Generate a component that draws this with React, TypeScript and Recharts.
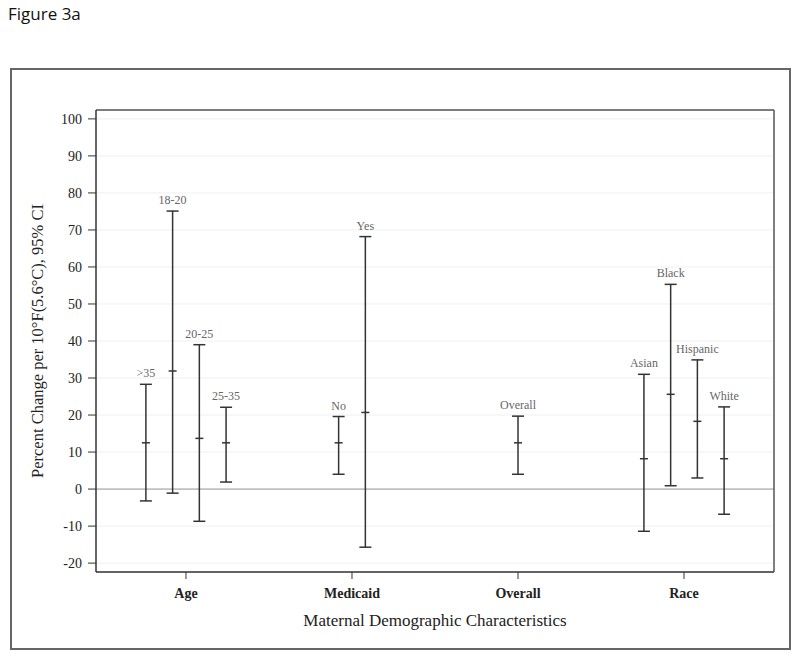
import React from 'react';
import {
  ComposedChart,
  Scatter,
  XAxis,
  YAxis,
  CartesianGrid,
  ReferenceLine,
  ErrorBar,
  Label,
} from 'recharts';

const categories = ['Age', 'Medicaid', 'Overall', 'Race'];
const subgroups = ['>35', '18-20', '20-25', '25-35', 'No', 'Yes', 'Overall', 'Asian', 'Black', 'Hispanic', 'White'];
const subgroupCategory = ['Age', 'Age', 'Age', 'Age', 'Medicaid', 'Medicaid', 'Overall', 'Race', 'Race', 'Race', 'Race'];
const estimates = [12.5, 31.9, 13.7, 12.5, 12.5, 20.7, 12.5, 8.2, 25.6, 18.3, 8.2];
const lower = [-3.2, -1.1, -8.7, 1.9, 4.0, -15.7, 4.0, -11.4, 0.9, 3.0, -6.8];
const upper = [28.3, 75.1, 39.0, 22.1, 19.6, 68.2, 19.7, 31.0, 55.3, 34.9, 22.2];
const yTicks = [-20, -10, 0, 10, 20, 30, 40, 50, 60, 70, 80, 90, 100];
const xTicks = [1, 2, 3, 4];

const DODGE = 0.161;
const PAD = 0.542;
const SERIF = '"Liberation Serif", "DejaVu Serif", serif';
const INK = '#333';

const rows = subgroups.map((name, i) => {
  const cat = subgroupCategory[i];
  const n = subgroupCategory.filter((c) => c === cat).length;
  const k = subgroupCategory.slice(0, i).filter((c) => c === cat).length;
  const x = categories.indexOf(cat) + 1 + (k - (n - 1) / 2) * DODGE;
  return { name, x, est: estimates[i], lo: lower[i], hi: upper[i] };
});

const midData = rows.map((r) => ({ x: r.x, y: r.est, err: [r.est - r.lo, r.hi - r.est] }));
const labelData = rows.map((r) => ({ x: r.x, y: r.hi, name: r.name }));

const MidTick = (props: any) => {
  const { cx, cy } = props;
  return <line x1={cx - 4} x2={cx + 4} y1={cy} y2={cy} stroke={INK} strokeWidth={1.5} />;
};

const GroupLabel = (props: any) => {
  const { cx, cy, payload } = props;
  return (
    <text x={cx} y={cy - 7} textAnchor="middle" fontSize={12} fill="#666" style={{ fontFamily: SERIF }}>
      {payload.name}
    </text>
  );
};

const YTick = (props: any) => {
  const { x, y, payload } = props;
  return (
    <text x={x} y={y} dy={5} textAnchor="end" fontSize={14} fill="#222" style={{ fontFamily: SERIF }}>
      {payload.value}
    </text>
  );
};

const XTick = (props: any) => {
  const { x, y, payload } = props;
  return (
    <text x={x} y={y} dy={10} textAnchor="middle" fontSize={14} fontWeight="bold" fill="#222" style={{ fontFamily: SERIF }}>
      {categories[Math.round(payload.value) - 1]}
    </text>
  );
};

export default function App() {
  return (
    <div style={{ position: 'absolute', left: 0, top: 0, width: 800, height: 661, background: '#fff' }}>
      <div
        style={{
          position: 'absolute',
          left: 8,
          top: 3,
          fontFamily: '"Open Sans", "Noto Sans", sans-serif',
          fontSize: 17,
          color: '#111',
          lineHeight: '22px',
        }}
      >
        Figure 3a
      </div>
      <div
        style={{
          position: 'absolute',
          left: 10,
          top: 68,
          width: 777,
          height: 578,
          border: '2px solid #666',
        }}
      />
      <div style={{ position: 'absolute', left: 0, top: 0 }}>
        <ComposedChart
          width={800}
          height={661}
          margin={{ top: 109, right: 25, bottom: 59, left: 36 }}
        >
          <CartesianGrid vertical={false} stroke="#f0f0f0" />
          <XAxis
            dataKey="x"
            type="number"
            domain={[1 - PAD, 4 + PAD]}
            ticks={xTicks}
            allowDataOverflow
            height={30}
            tickSize={7}
            tickMargin={9}
            axisLine={{ stroke: INK, strokeWidth: 1.5 }}
            tickLine={{ stroke: INK }}
            tick={<XTick />}
          >
            <Label
              value="Maternal Demographic Characteristics"
              position="bottom"
              offset={12}
              style={{ fontFamily: SERIF, fontSize: 17, fill: '#222' }}
            />
          </XAxis>
          <XAxis
            xAxisId="top"
            orientation="top"
            type="number"
            domain={[1 - PAD, 4 + PAD]}
            height={1}
            tick={false}
            tickLine={false}
            axisLine={{ stroke: '#555', strokeWidth: 1.5 }}
          />
          <YAxis
            dataKey="y"
            type="number"
            domain={[-22.4, 102.4]}
            ticks={yTicks}
            allowDataOverflow
            width={60}
            tickSize={8}
            tickMargin={6}
            axisLine={{ stroke: INK, strokeWidth: 1.5 }}
            tickLine={{ stroke: INK }}
            tick={<YTick />}
          >
            <Label
              value="Percent Change per 10°F(5.6°C), 95% CI"
              position="insideLeft"
              angle={-90}
              offset={1}
              style={{ fontFamily: SERIF, fontSize: 16.5, fill: '#222', textAnchor: 'middle' }}
            />
          </YAxis>
          <YAxis
            yAxisId="right"
            orientation="right"
            type="number"
            domain={[-22.4, 102.4]}
            width={1}
            tick={false}
            tickLine={false}
            axisLine={{ stroke: '#555', strokeWidth: 1.5 }}
          />
          <ReferenceLine y={0} stroke="#999" strokeWidth={1} />
          <Scatter data={midData} shape={MidTick} isAnimationActive={false}>
            <ErrorBar dataKey="err" direction="y" width={6} stroke={INK} strokeWidth={1.5} isAnimationActive={false} />
          </Scatter>
          <Scatter data={labelData} shape={GroupLabel} isAnimationActive={false} />
        </ComposedChart>
      </div>
    </div>
  );
}
